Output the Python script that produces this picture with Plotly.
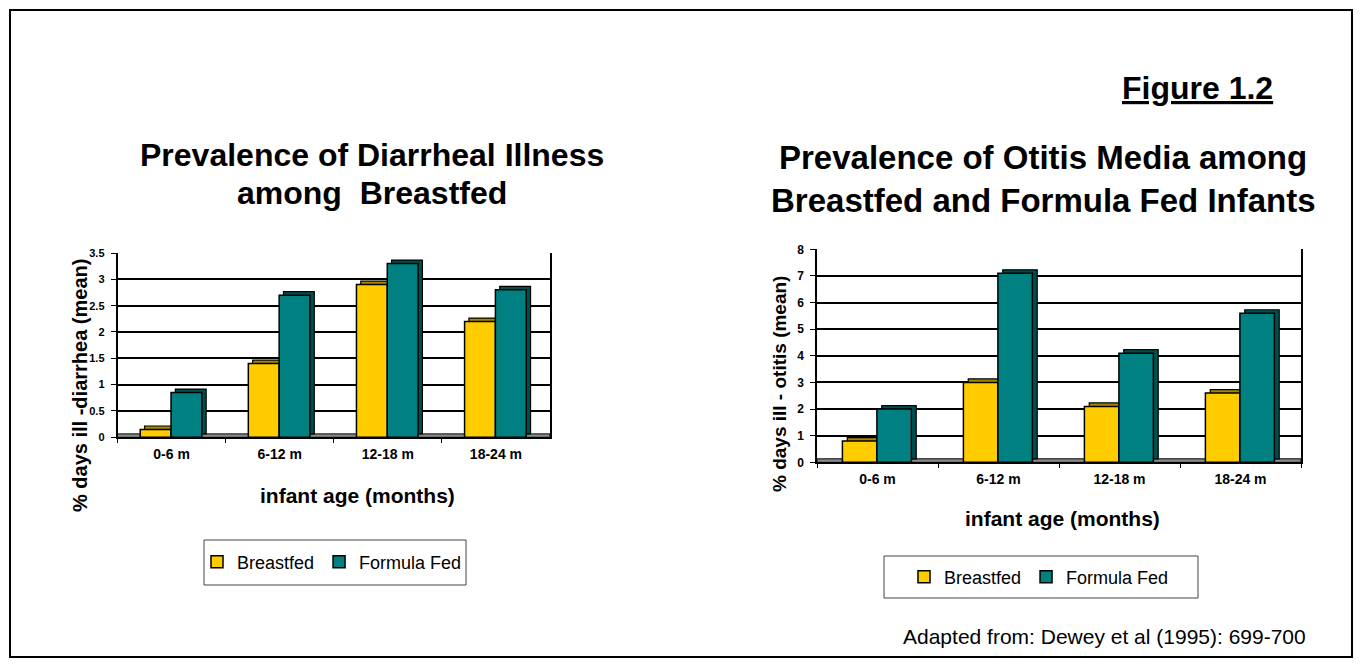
import plotly.graph_objects as go

categories = ["0-6 m", "6-12 m", "12-18 m", "18-24 m"]
diarrhea_breastfed = [0.15, 1.4, 2.9, 2.2]
diarrhea_formula = [0.85, 2.7, 3.3, 2.8]
otitis_breastfed = [0.8, 3.0, 2.1, 2.6]
otitis_formula = [2.0, 7.1, 4.1, 5.6]
diarrhea_ticks = [0, 0.5, 1, 1.5, 2, 2.5, 3, 3.5]
otitis_ticks = [0, 1, 2, 3, 4, 5, 6, 7, 8]
series_names = ["Breastfed", "Formula Fed"]

YELLOW = "#FFCC00"
TEAL = "#008080"
YELLOW_DARK = "#A68600"
TEAL_DARK = "#004F4F"
FONT = "Arial, Liberation Sans, sans-serif"
W, H = 1362, 667


def px(x):
    return x / W


def py(y):
    return 1 - y / H


fig = go.Figure()

BAR_W = 0.285
OFFSETS = [-0.29, -0.005]


def add_chart(xa, ya, leg, s1, s2, dx, dy):
    vals = [s1, s2]
    fills = [YELLOW, TEAL]
    darks = [YELLOW_DARK, TEAL_DARK]
    # depth faces (drawn first, behind the front faces)
    for i in range(2):
        fig.add_trace(go.Bar(
            x=categories, y=vals[i], base=dy, offset=OFFSETS[i] + dx, width=BAR_W,
            marker=dict(color=darks[i], line=dict(color="black", width=1.2)),
            xaxis=xa, yaxis=ya, showlegend=False, hoverinfo="skip"))
    # front faces
    for i in range(2):
        fig.add_trace(go.Bar(
            x=categories, y=vals[i], offset=OFFSETS[i], width=BAR_W, name=series_names[i],
            marker=dict(color=fills[i], line=dict(color="black", width=1.5)),
            xaxis=xa, yaxis=ya, legend=leg))


add_chart("x", "y", "legend", diarrhea_breastfed, diarrhea_formula, 0.04, 0.065)
add_chart("x2", "y2", "legend2", otitis_breastfed, otitis_formula, 0.04, 0.13)

common_x = dict(showgrid=False, showline=True, linecolor="black", linewidth=1.5, mirror=False,
                ticks="outside", tickson="boundaries", ticklen=4, tickcolor="black",
                tickfont=dict(family=FONT, size=14, color="black", weight="bold"),
                ticklabelstandoff=3, fixedrange=True, range=[-0.5, 3.5])
common_y = dict(showgrid=True, gridcolor="black", gridwidth=1.6, showline=True, linecolor="black", linewidth=1.5,
                mirror=True, ticks="outside", ticklen=5, tickcolor="black", zeroline=False, fixedrange=True,
                ticklabelstandoff=4)

fig.update_layout(
    width=W, height=H,
    margin=dict(l=0, r=0, t=0, b=0, autoexpand=False),
    paper_bgcolor="white", plot_bgcolor="white",
    barmode="overlay",
    font=dict(family=FONT, color="black"),
    xaxis=dict(domain=[px(117.5), px(550)], anchor="y", **common_x),
    yaxis=dict(domain=[py(437.3), py(253)], anchor="x", range=[0, 3.5], tickvals=diarrhea_ticks,
               ticktext=["%g" % v for v in diarrhea_ticks],
               tickfont=dict(family=FONT, size=11, color="black", weight="bold"), **common_y),
    xaxis2=dict(domain=[px(817), px(1301)], anchor="y2", **common_x),
    yaxis2=dict(domain=[py(462.3), py(249.3)], anchor="x2", range=[0, 8], tickvals=otitis_ticks,
                ticktext=["%g" % v for v in otitis_ticks],
                tickfont=dict(family=FONT, size=12, color="black", weight="bold"), **common_y),
    legend=dict(orientation="h", x=px(332), y=py(562), xanchor="center", yanchor="middle",
                borderwidth=0, bgcolor="rgba(0,0,0,0)",
                font=dict(family=FONT, size=18, color="black"),
                itemwidth=30, tracegroupgap=0),
    legend2=dict(orientation="h", x=px(1039), y=py(577), xanchor="center", yanchor="middle",
                 borderwidth=0, bgcolor="rgba(0,0,0,0)",
                 font=dict(family=FONT, size=18, color="black"),
                 itemwidth=30, tracegroupgap=0),
    showlegend=True,
)


def note(text, x, y, size, angle=0):
    fig.add_annotation(text=text, x=px(x), y=py(y), xref="paper", yref="paper", xanchor="center",
                       yanchor="middle", showarrow=False, textangle=angle,
                       font=dict(family=FONT, size=size, color="black"))


note("<b>Prevalence of Diarrheal Illness</b>", 372, 155, 32)
note("<b>among  Breastfed</b>", 372, 193, 32)
note("<b>Prevalence of Otitis Media among</b>", 1043, 157, 33)
note("<b>Breastfed and Formula Fed Infants</b>", 1043, 200, 33)
note("<b><u>Figure 1.2</u></b>", 1197, 88, 32)
note("Adapted from: Dewey et al (1995): 699-700", 1104, 636, 21)
note("<b>infant age (months)</b>", 357, 495, 21)
note("<b>infant age (months)</b>", 1062, 518, 21)
note("<b>% days ill -diarrhea (mean)</b>", 80, 386, 20, -90)
note("<b>% days ill - otitis (mean)</b>", 780, 384, 19, -90)

# gray floors of the 3-D charts
fig.add_shape(type="rect", xref="x domain", yref="y", x0=0, x1=1, y0=0, y1=0.065,
              fillcolor="#8C8C8C", line=dict(color="black", width=1), layer="below")
fig.add_shape(type="rect", xref="x2 domain", yref="y2", x0=0, x1=1, y0=0, y1=0.13,
              fillcolor="#8C8C8C", line=dict(color="black", width=1), layer="below")

# legend boxes
fig.add_shape(type="rect", xref="paper", yref="paper", x0=px(204), x1=px(466), y0=py(585), y1=py(540),
              line=dict(color="#444", width=1), layer="below")
fig.add_shape(type="rect", xref="paper", yref="paper", x0=px(884), x1=px(1198), y0=py(598), y1=py(556),
              line=dict(color="#444", width=1), layer="below")

# outer frame
fig.add_shape(type="rect", xref="paper", yref="paper", x0=px(10), x1=px(1352), y0=py(657), y1=py(10),
              line=dict(color="black", width=2))

fig.write_html("out.html", config={"displayModeBar": False},
               post_script="document.body.style.margin='0';document.body.style.overflow='hidden';")
